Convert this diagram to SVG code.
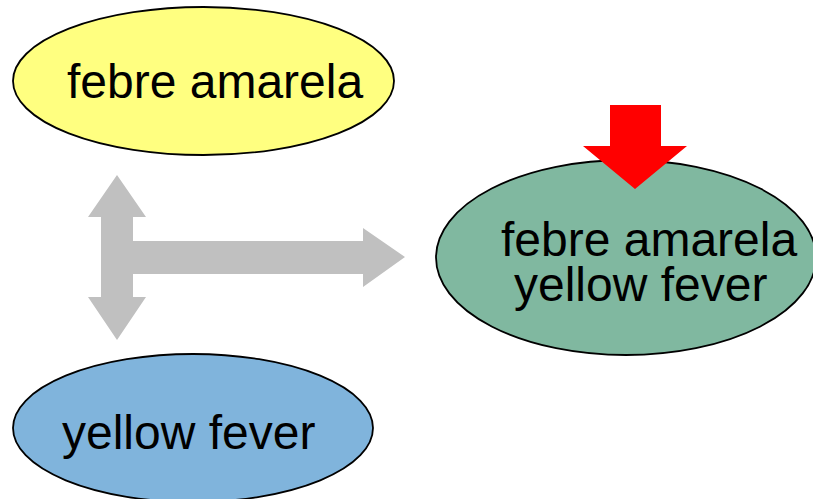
<svg xmlns="http://www.w3.org/2000/svg" width="813" height="499" viewBox="0 0 813 499">
<style>
.node{stroke:#000;stroke-width:1.8}
.lbl{font-family:"Liberation Sans",Arial,sans-serif;font-size:48px;fill:#000}
.gray{fill:#C0C0C0}
.red{fill:#FF0000}
</style>
<rect width="813" height="499" fill="#fff"/>
<g id="node-yellow">
<ellipse class="node" cx="203.5" cy="81" rx="190.5" ry="74" fill="#FFFF80"/>
<text class="lbl" x="67" y="98">febre amarela</text>
</g>
<g id="node-green">
<ellipse class="node" cx="626" cy="257.5" rx="190" ry="97.5" fill="#80B8A0"/>
<text class="lbl" x="501" y="256">febre amarela<tspan x="514" y="301">yellow fever</tspan></text>
</g>
<g id="node-blue">
<ellipse class="node" cx="193" cy="428" rx="180" ry="74" fill="#80B4DC"/>
<text class="lbl" x="62" y="449">yellow fever</text>
</g>
<g id="connectors">
<polygon class="gray" points="117,175 146,217 133,217 133,241 363,241 363,228 405,257 363,287 363,274 133,274 133,297 146,297 117,340 88,297 101,297 101,217 88,217"/>
<polygon class="red" points="610,105 661,105 661,146 687,146 635,189 583,146 610,146"/>
</g>
</svg>
